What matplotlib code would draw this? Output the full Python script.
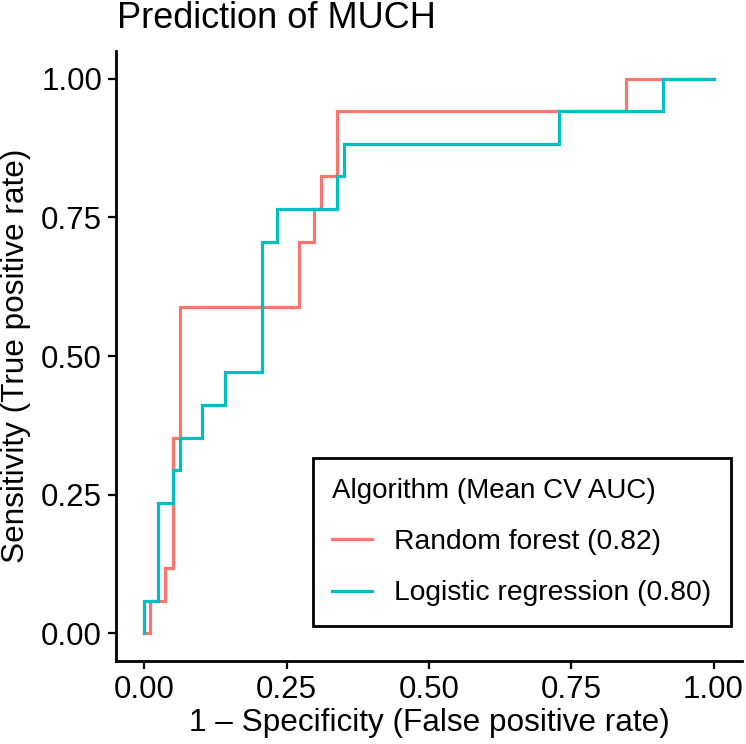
import matplotlib
matplotlib.use("Agg")
import matplotlib.pyplot as plt
from matplotlib.lines import Line2D

plt.rcParams['font.family'] = ['Liberation Sans', 'DejaVu Sans']

# Data
rf_fpr = [0.0, 0.0105, 0.036, 0.050, 0.063, 0.272, 0.2975, 0.3105, 0.338, 0.847, 1.0]
rf_tpr = [0.0, 0.059, 0.118, 0.353, 0.588, 0.706, 0.765, 0.824, 0.941, 1.0, 1.0]

lr_fpr = [0.0, 0.0, 0.0234, 0.0497, 0.0633, 0.1014, 0.141, 0.2074, 0.2325, 0.338, 0.350, 0.729, 0.912, 1.0]
lr_tpr = [0.0, 0.059, 0.235, 0.294, 0.353, 0.412, 0.471, 0.706, 0.765, 0.824, 0.882, 0.941, 1.0, 1.0]

series_labels = ["Random forest (0.82)", "Logistic regression (0.80)"]
series_colors = ["#F8766D", "#00BFC4"]
ticks = [0.0, 0.25, 0.5, 0.75, 1.0]
tick_labels = ["0.00", "0.25", "0.50", "0.75", "1.00"]

W, H = 746, 744
fig = plt.figure(figsize=(W / 100, H / 100), dpi=100)
ax = fig.add_axes([116 / W, 1 - 661 / H, 626 / W, 610 / H])

lw = 2.3
ax.plot(rf_fpr, rf_tpr, drawstyle="steps-post", color=series_colors[0], lw=lw, solid_joinstyle="miter")
ax.plot(lr_fpr, lr_tpr, drawstyle="steps-post", color=series_colors[1], lw=lw, solid_joinstyle="miter")

ax.set_xlim(-0.05, 1.05)
ax.set_ylim(-0.05, 1.05)
ax.set_xticks(ticks)
ax.set_xticklabels(tick_labels)
ax.set_yticks(ticks)
ax.set_yticklabels(tick_labels)

for s in ["top", "right"]:
    ax.spines[s].set_visible(False)
for s in ["left", "bottom"]:
    ax.spines[s].set_linewidth(2.0)
    ax.spines[s].set_color("black")
ax.tick_params(axis="both", direction="out", length=6, width=1.6, colors="black",
               labelsize=22.5, pad=4)

ax.set_xlabel("1 \u2013 Specificity (False positive rate)", fontsize=22.7, labelpad=2)
ax.set_ylabel("Sensitivity (True positive rate)", fontsize=22.7, labelpad=7)

fig.text(117 / W, 1 - 28 / H, "Prediction of MUCH", fontsize=26, ha="left", va="baseline")

handles = [Line2D([], [], color=c, lw=lw) for c in series_colors]
leg = ax.legend(handles, series_labels, title="Algorithm (Mean CV AUC)",
                loc="lower right", bbox_to_anchor=(0.983, 0.057),
                fontsize=20.3, title_fontsize=20, frameon=True, fancybox=False,
                handlelength=1.4, handletextpad=0.8, labelspacing=0.9,
                borderpad=0.7, borderaxespad=0.0)
leg._legend_box.align = "left"
frame = leg.get_frame()
frame.set_edgecolor("black")
frame.set_linewidth(2.0)
frame.set_facecolor("white")
frame.set_alpha(1.0)

fig.savefig("out.png", dpi=100)
